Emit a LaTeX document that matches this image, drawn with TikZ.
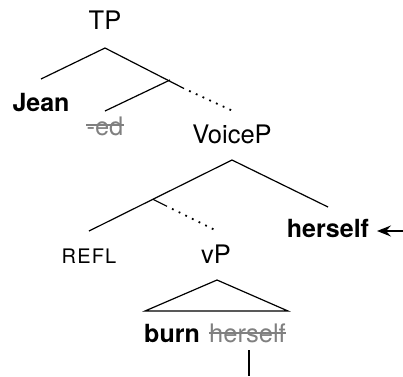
\documentclass[tikz,border=0pt]{standalone}
\usepackage{fontspec}
\setmainfont{TeX Gyre Heros}
\usetikzlibrary{arrows.meta}
\begin{document}
\begin{tikzpicture}[x=1pt,y=-1pt,
  lbl/.style={anchor=base,inner sep=0pt,font=\fontsize{25.5}{30}\selectfont},
  bl/.style={lbl,font=\fontsize{25}{30}\selectfont\bfseries},
  gr/.style={lbl,text=gray},
  refl/.style={lbl,font=\fontsize{20}{24}\selectfont\addfontfeatures{LetterSpace=6}},
  branch/.style={line width=1.2pt},
  dots/.style={line width=1.8pt,dash pattern=on 1.8pt off 5.6pt,dash phase=1.8pt},
  strike/.style={gray,line width=1.3pt}]
\useasboundingbox (0,0) rectangle (403,376);
% labels
\node[lbl] (tp) at (105,29.3) {TP};
\node[bl] (jean) at (41,111.7) {Jean};
\node[gr] (ed) at (105,135) {-ed};
\node[lbl] (voicep) at (232,143) {VoiceP};
\node[bl] (herself) at (328,237) {herself};
\node[refl] (refl) at (89,263) {REFL};
\node[lbl] (vp) at (216,263) {vP};
\node[bl] (burn) at (172,342) {burn};
\node[gr] (hs) at (247.5,342) {herself};
% strike-throughs
\draw[strike] ([yshift=10pt]ed.base west) -- ([yshift=10pt]ed.base east);
\draw[strike] ([yshift=9pt]hs.base west) -- ([yshift=9pt]hs.base east);
% tree points
\coordinate (tpapex) at (105,48);
\coordinate (jeanend) at (41,79);
\coordinate (tbar) at (170,80);
\coordinate (edend) at (105,111);
\coordinate (tsolid) at (184,88.5);
\coordinate (tend) at (233,111);
\coordinate (vapex) at (232,160);
\coordinate (reflend) at (89,231);
\coordinate (hsend) at (328,207);
\coordinate (vbar) at (153,199.3);
\coordinate (vsolid) at (167,206.3);
\coordinate (vend) at (217,231);
\coordinate (triapex) at (217,280);
\coordinate (trileft) at (145,311);
\coordinate (triright) at (288,311);
\coordinate (tracetop) at (249,350);
\coordinate (tracebot) at (249,376);
\coordinate (arrstart) at (403,231);
\coordinate (arrend) at (377,231);
% branches
\draw[branch] (tpapex) -- (jeanend);
\draw[branch] (tpapex) -- (tsolid);
\draw[dots] (tsolid) -- (tend);
\draw[branch] (tbar) -- (edend);
\draw[branch] (vapex) -- (reflend);
\draw[branch] (vapex) -- (hsend);
\draw[branch] (vbar) -- (vsolid);
\draw[dots] (vsolid) -- (vend);
\draw[branch] (triapex) -- (trileft) -- (triright) -- cycle;
\draw[line width=1.1pt] (tracetop) -- (tracebot);
\draw[line width=1.1pt,-{Stealth[length=14pt,width=11pt,inset=5pt]}] (arrstart) -- (arrend);
\end{tikzpicture}
\end{document}
